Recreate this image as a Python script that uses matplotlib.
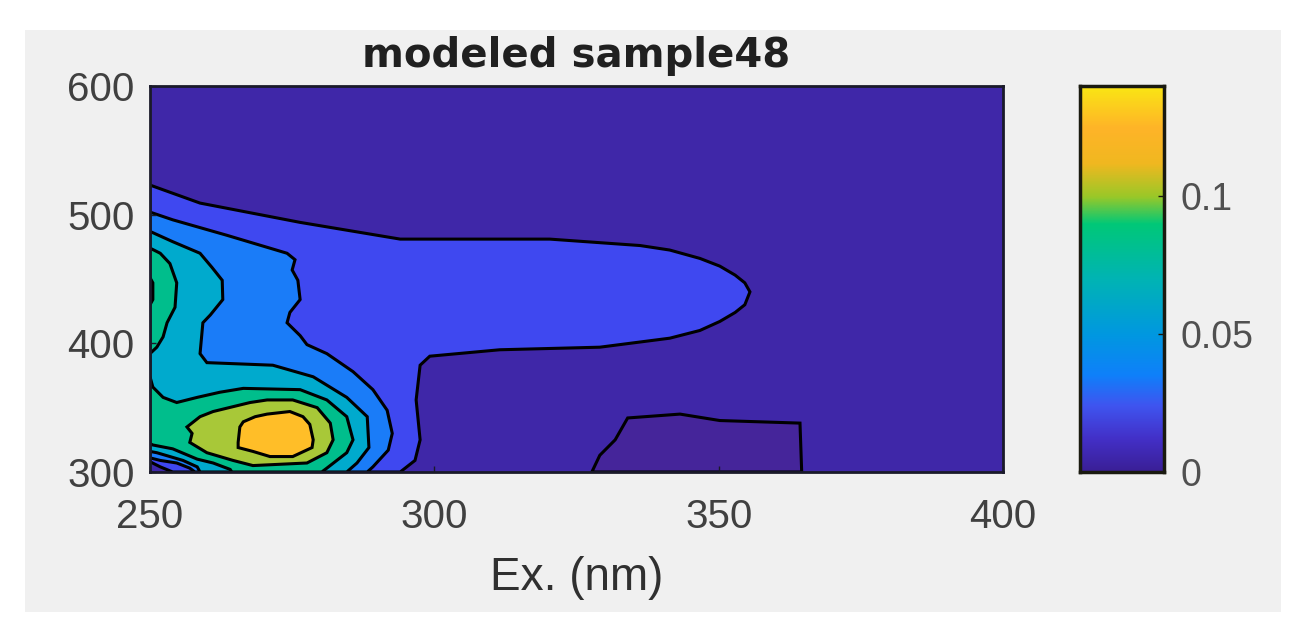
"""Modeled EEM contour plot for sample 48, with its colorbar."""

import matplotlib
matplotlib.use("Agg")
import matplotlib.pyplot as plt
import numpy as np
from matplotlib.colors import LinearSegmentedColormap
from matplotlib.patches import Rectangle

plt.rcParams["font.family"] = ["Liberation Sans", "DejaVu Sans"]

x_ticks = [250, 300, 350, 400]
y_ticks = [300, 400, 500, 600]
cbar_ticks = [0, 0.05, 0.1]
cbar_labels = ["0", "0.05", "0.1"]
cbar_max = 0.14

# contour outlines (Ex. nm, Em. nm)
level1_x = [250, 258.8, 276.4, 294, 320.3, 336.2, 341.4, 346.7, 350.2, 352.9, 354.6, 355.5, 354.6, 352.9, 350.2,
            346.7, 341.4, 329.1, 311.5, 299.2, 297.5, 296.8, 297.5, 296.6, 294, 254, 251.8, 250]
level1_y = [523, 509, 494, 481, 481, 476, 472.5, 466, 460, 453, 447, 440, 430, 424, 417,
            410, 404, 397, 395, 390, 383, 356, 325, 309, 300, 300, 304, 308]
level2_x = [250, 254, 263.5, 274.1, 275.5, 275, 276, 276.4, 274.6, 274.1, 276.4, 277.6, 281.1, 285.7,
            289.2, 291.7, 292.6, 291.9, 289.2, 288.2, 257.9, 257, 254.7, 251.8, 250]
level2_y = [502, 496, 484, 470, 465, 457, 449, 434, 424, 416, 406, 399, 392, 378,
            364, 348, 330, 317, 304, 300, 300, 303, 307, 309, 311]
level3_x = [250, 254, 258.8, 260.9, 262.7, 262.8, 260.6, 259.3, 258.8, 260, 271.6, 278.7, 284.6, 288.2,
            288.5, 286.4, 284.6, 258.8, 258.3, 255.8, 251.2, 250]
level3_y = [487, 479, 470, 459, 449, 434, 422, 416, 392, 385, 383, 374, 358, 343,
            319, 307, 300, 300, 304, 309, 315, 316]
level4a_x = [250, 251.8, 253.5, 254.7, 254.4, 253, 252.3, 251.2, 250]
level4a_y = [474, 470, 462, 447, 428, 416, 405, 397, 392]
level4b_x = [250, 250.5, 252.3, 254.7, 258.3, 262.3, 266.4, 276.4, 281.1, 284.6, 285.7, 284.6, 281.1, 280.2,
             264.4, 264.1, 261.1, 258.3, 254, 250.5, 250]
level4b_y = [374, 366, 358, 354, 358, 362, 365, 364, 356, 343, 325, 315, 303, 300,
             300, 302, 307, 310, 318, 321, 322]
level5a_x = [250, 250.5, 250.5, 250]
level5a_y = [451, 447, 434, 430]
level5b_x = [256.5, 258.8, 261.1, 267.6, 270.6, 275.1, 279.4, 281.7, 282.2, 281.1, 277.6, 268.1, 264.6, 260, 257, 257.4]
level5b_y = [335, 343, 347, 354, 356, 356, 350, 338, 325, 315, 307, 305, 309, 315, 323, 330]
level6_x = [265.8, 266.4, 268.5, 270.6, 274.6, 276.9, 278.1, 278.7, 278.5, 275.1, 271.1, 268.1, 265.5, 265.5]
level6_y = [335, 339, 343, 345, 347, 343, 337, 325, 319, 312, 312, 316, 319, 323]
island_x = [327.7, 329.1, 331.8, 334, 343.2, 350.2, 364.3, 364.6]
island_y = [300, 313, 325, 342, 345, 340, 338, 300]

background_color = "#3f27a8"
island_color = "#45259a"
level_colors = ["#3f48f0", "#1a7cf8", "#00aacd", "#00be8c", "#a8c838", "#ffbe28"]

cbar_stops = [0, 0.012, 0.024, 0.035, 0.05, 0.07, 0.09, 0.1, 0.112, 0.125, 0.14]
cbar_colors = ["#3a1f96", "#4330c8", "#3f55f0", "#0f80fa", "#0098e0", "#00b4b4",
               "#00c878", "#9ac828", "#f0b820", "#ffb428", "#fae614"]

W, H = 1305, 639
fig = plt.figure(figsize=(W / 100, H / 100), dpi=100, facecolor="white")
fig.patches.append(Rectangle((25 / W, 1 - 612 / H), 1256 / W, 582 / H, transform=fig.transFigure,
                             facecolor="#f0f0f0", edgecolor="none", zorder=-1))

ax = fig.add_axes([150 / W, 1 - 472 / H, 853 / W, 386 / H])
ax.set_facecolor(background_color)
ax.fill(island_x, island_y, facecolor=island_color, edgecolor="black", linewidth=2.2)
outlines = [
    (level1_x, level1_y, level_colors[0]),
    (level2_x, level2_y, level_colors[1]),
    (level3_x, level3_y, level_colors[2]),
    (level4a_x, level4a_y, level_colors[3]),
    (level4b_x, level4b_y, level_colors[3]),
    (level5a_x, level5a_y, "black"),
    (level5b_x, level5b_y, level_colors[4]),
    (level6_x, level6_y, level_colors[5]),
]
for xs, ys, color in outlines:
    ax.fill(xs, ys, facecolor=color, edgecolor="black", linewidth=2.2)

ax.set_xlim(250, 400)
ax.set_ylim(300, 600)
ax.set_xticks(x_ticks)
ax.set_yticks(y_ticks)
ax.tick_params(direction="in", length=4, width=1, color="#1a1a2a", labelcolor="#404040", labelsize=29)
ax.tick_params(axis="x", pad=19)
ax.tick_params(axis="y", pad=11)
for spine in ax.spines.values():
    spine.set_linewidth(2)
    spine.set_color("#1a1a2a")
ax.set_xlabel("Ex. (nm)", fontsize=33, color="#303030", labelpad=14)
ax.set_title("modeled sample48", fontsize=29, fontweight="bold", family="DejaVu Sans", color="#202020", pad=14)

cax = fig.add_axes([1080 / W, 1 - 472 / H, 84 / W, 386 / H])
cmap = LinearSegmentedColormap.from_list("eem", [(v / cbar_max, c) for v, c in zip(cbar_stops, cbar_colors)])
gradient = np.linspace(0, cbar_max, 256).reshape(-1, 1)
cax.imshow(gradient, origin="lower", aspect="auto", cmap=cmap, extent=[0, 1, 0, cbar_max])
cax.set_xticks([])
cax.yaxis.tick_right()
cax.set_yticks(cbar_ticks)
cax.set_yticklabels(cbar_labels)
cax.tick_params(direction="in", length=4, width=1, color="#1a1a10", labelcolor="#505050", labelsize=27, pad=12)
for spine in cax.spines.values():
    spine.set_linewidth(2.5)
    spine.set_color("#1a1a10")

fig.savefig("out.png", dpi=100, facecolor="white")
plt.close(fig)
